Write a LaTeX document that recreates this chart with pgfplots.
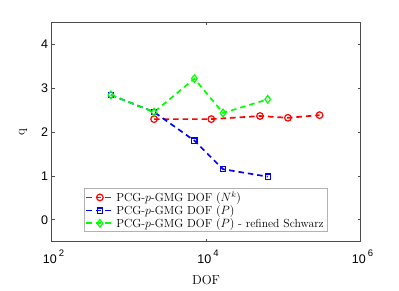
\documentclass[border=0pt]{standalone}
\usepackage{fontspec}
\usepackage{pgfplots}
\pgfplotsset{compat=1.18}
\newfontfamily\tickfont{Liberation Sans}
\newcommand{\tpow}[1]{10\,\raisebox{0.5em}{\fontsize{9.5}{10}\selectfont #1}}
\begin{document}
\begin{tikzpicture}
\useasboundingbox (0,0) rectangle (399pt,290pt);
\begin{axis}[
  at={(51.5pt,48.3pt)}, anchor=south west,
  scale only axis, width=309pt, height=219.7pt,
  xmode=log, xmin=100, xmax=1e6,
  ymin=-0.5, ymax=4.5,
  ytick={0,1,2,3,4},
  yticklabels={0,1,2,3,4},
  xtick={100,1e4,1e6},
  xticklabels={{\tpow{2}},{\tpow{4}},{\tpow{6}}},
  tick label style={font=\tickfont\fontsize{12.5}{14}\selectfont},
  xticklabel style={yshift=-5pt, xshift=2pt},
  tick align=inside, tick pos=both,
  major tick length=3pt, minor tick length=1.8pt,
  axis line style={gray!60!black, line width=0.5pt},
  tick style={gray!60!black, line width=0.5pt},
  xlabel={DOF}, ylabel={q},
  label style={font=\fontsize{13}{15}\selectfont},
  xlabel style={yshift=-5pt},
  ylabel style={yshift=7pt},
  legend style={at={(rel axis cs:0.106,0.045)}, anchor=south west,
    draw=gray!60, line width=0.6pt, fill=white,
    font=\fontsize{11.7}{13}\selectfont, inner sep=1pt,
    row sep=-1.8pt, cells={anchor=west}},
  legend image code/.code={
    \draw[#1] (0pt,0pt) -- (27pt,0pt);
    \draw[#1, solid] plot coordinates {(13.5pt,0pt)};
  },
  every axis plot/.append style={line width=1.7pt, dash pattern=on 5.5pt off 4pt},
]
\addplot[red, mark=o, mark size=3.3pt, mark options={solid, line width=1.2pt}] coordinates {
(2130,2.29) (11700,2.29) (50000,2.36) (115000,2.32) (295000,2.38)};
\addlegendentry{PCG-$p$-GMG DOF $(N^k)$}
\addplot[blue, mark=square, mark size=2.6pt, mark options={solid, line width=1.2pt}] coordinates {
(587,2.84) (2130,2.45) (7070,1.80) (16600,1.15) (63000,0.98)};
\addlegendentry{PCG-$p$-GMG DOF $(P)$}
\addplot[green, mark=diamond, mark size=3.8pt, mark options={solid, line width=1.2pt}] coordinates {
(587,2.84) (2130,2.45) (7070,3.21) (16600,2.43) (63000,2.74)};
\addlegendentry{PCG-$p$-GMG DOF $(P)$ - refined Schwarz}
\end{axis}
\end{tikzpicture}
\end{document}
